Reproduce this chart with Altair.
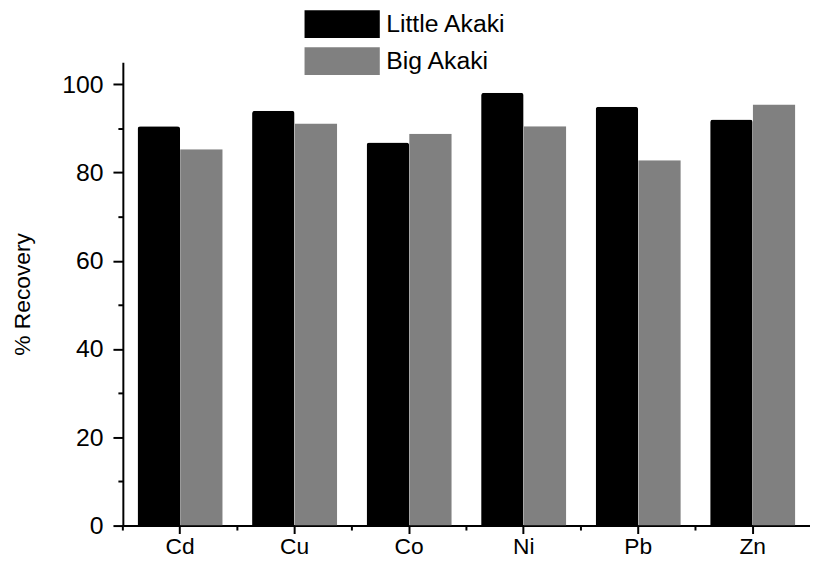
import altair as alt
import pandas as pd

metals = ["Cd", "Cu", "Co", "Ni", "Pb", "Zn"]
little_akaki = [90.5, 94.0, 86.8, 98.1, 94.9, 92.0]
big_akaki = [85.3, 91.1, 88.8, 90.5, 82.8, 95.4]
series = ["Little Akaki", "Big Akaki"]
colors = ["#000000", "#808080"]
y_ticks = list(range(0, 101, 10))

rows = []
for m, a, b in zip(metals, little_akaki, big_akaki):
    rows.append({"metal": m, "site": series[0], "recovery": a})
    rows.append({"metal": m, "site": series[1], "recovery": b})
df = pd.DataFrame(rows)
cats = pd.DataFrame({"metal": metals})

FONT = "Liberation Sans"
W, H = 694, 468

x_scale = alt.Scale(paddingInner=0, paddingOuter=0)

rounded = alt.expr("datum.site === 'Little Akaki' ? 3 : 0")

bars = alt.Chart(df).mark_bar(
    cornerRadiusTopLeft=rounded, cornerRadiusTopRight=rounded
).encode(
    x=alt.X(
        "metal:N", sort=metals, scale=x_scale,
        axis=alt.Axis(title=None, labelAngle=0, labelFont=FONT, labelFontSize=23,
                      labelColor="black", labelPadding=2, tickSize=8, tickWidth=2,
                      tickColor="black", domainColor="black", domainWidth=2),
    ),
    xOffset=alt.XOffset("site:N", sort=series,
                        scale=alt.Scale(domain=series, paddingOuter=0.345, paddingInner=0)),
    y=alt.Y(
        "recovery:Q", scale=alt.Scale(domain=[0, 105], nice=False),
        axis=alt.Axis(title="% Recovery", values=y_ticks,
                      labelExpr="datum.value % 20 === 0 ? datum.label : ''",
                      tickSize={"condition": {"test": "datum.value % 20 !== 0", "value": 5}, "value": 10},
                      tickWidth=2, tickColor="black", domainColor="black", domainWidth=2,
                      labelFont=FONT, labelFontSize=25, labelColor="black", labelPadding=10,
                      titleFont=FONT, titleFontSize=23, titleFontWeight="normal",
                      titleColor="black", titlePadding=28, grid=False),
    ),
    color=alt.Color(
        "site:N", sort=series, scale=alt.Scale(domain=series, range=colors),
        legend=alt.Legend(title=None, orient="none", legendX=209, legendY=-51,
                          symbolType="M-3.8,-1.4H3.8V1.4H-3.8Z", symbolSize=400,
                          symbolStrokeWidth=0, symbolOpacity=1, labelFont=FONT,
                          labelFontSize=25, labelColor="black", labelOffset=32,
                          rowPadding=8.5, padding=0),
    ),
)

minor = alt.Chart(cats).mark_rule(color="black", strokeWidth=2).encode(
    x=alt.X("metal:N", sort=metals, bandPosition=0, scale=x_scale),
    y=alt.value(H),
    y2=alt.value(H + 5),
)

chart = alt.layer(bars, minor).properties(
    width=W, height=H,
    autosize=alt.AutoSizeParams(type="none"),
    padding={"left": 116, "top": 52, "right": 0, "bottom": 30},
).configure_view(stroke=None)

chart.save("out.html", embed_options={"renderer": "svg", "actions": False})
